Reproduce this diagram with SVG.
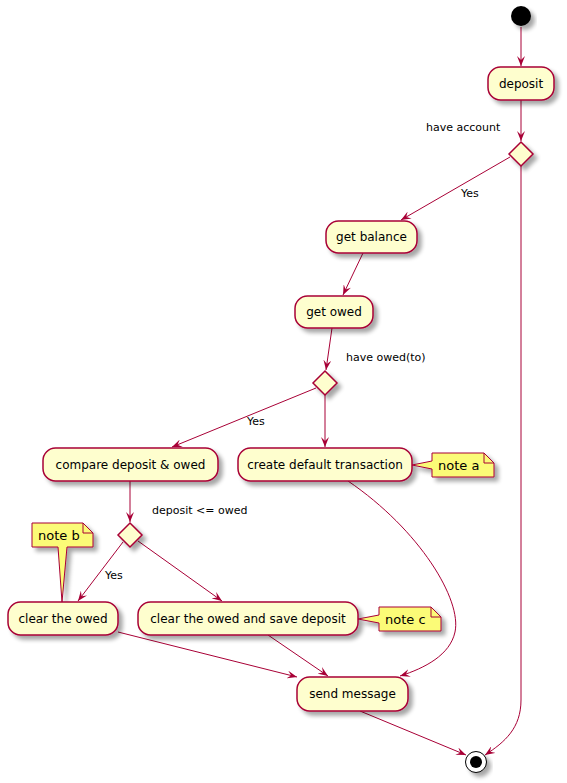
<svg xmlns="http://www.w3.org/2000/svg" width="567" height="783" viewBox="0 0 567 783">
<style>
.box{fill:#FEFECE;stroke:#A80036;stroke-width:1.5;filter:url(#sh)}
.dia{fill:#FEFECE;stroke:#A80036;stroke-width:1.5;filter:url(#sh)}
.note{fill:#FBFB77;stroke:#A80036;stroke-width:1;filter:url(#sh)}
.fold{fill:none;stroke:#A80036;stroke-width:1}
.t{font-family:"DejaVu Sans",sans-serif;font-size:12px;fill:#000;text-anchor:middle}
.nt{font-family:"DejaVu Sans",sans-serif;font-size:13px;fill:#000}
.lbl{font-family:"DejaVu Sans",sans-serif;font-size:11px;fill:#000}
.e{fill:none;stroke:#A80036;stroke-width:1;marker-end:url(#ah)}
</style>
<defs>
<filter id="sh" x="-20%" y="-20%" width="150%" height="160%">
<feGaussianBlur in="SourceAlpha" stdDeviation="2"/>
<feOffset dx="4" dy="4" result="b"/>
<feComponentTransfer><feFuncA type="linear" slope="0.35"/></feComponentTransfer>
<feMerge><feMergeNode/><feMergeNode in="SourceGraphic"/></feMerge>
</filter>
<marker id="ah" markerWidth="10" markerHeight="8" refX="10" refY="4" orient="auto" markerUnits="userSpaceOnUse">
<path d="M0,0 L10,4 L0,8 L4,4 Z" fill="#A80036"/>
</marker>
</defs>

<g id="connectors">
<line class="e" x1="521" y1="27" x2="521" y2="66"/>
<line class="e" x1="521" y1="100" x2="521" y2="141"/>
<line class="e" x1="510" y1="157" x2="401" y2="220"/>
<line class="e" x1="363" y1="253" x2="343" y2="295"/>
<line class="e" x1="332" y1="328" x2="326" y2="370"/>
<line class="e" x1="316" y1="388" x2="172" y2="447"/>
<line class="e" x1="325" y1="395" x2="325" y2="447"/>
<line class="e" x1="130" y1="481" x2="130" y2="522"/>
<line class="e" x1="123" y1="542" x2="78" y2="601"/>
<line class="e" x1="138" y1="541" x2="222" y2="601"/>
<line class="e" x1="118" y1="632" x2="297" y2="677"/>
<line class="e" x1="268" y1="635" x2="328" y2="676"/>
<path class="e" d="M348,481 C420,530 462,600 455,632 C450,655 425,668 400,676"/>
<line class="e" x1="360" y1="711" x2="466" y2="755"/>
<path class="e" d="M521,166 L521,700 C521,728 505,742 485,755"/>
<text class="lbl" x="426" y="131">have account</text>
<text class="lbl" x="461" y="197">Yes</text>
<text class="lbl" x="346" y="361">have owed(to)</text>
<text class="lbl" x="247" y="425">Yes</text>
<text class="lbl" x="152" y="514">deposit &lt;= owed</text>
<text class="lbl" x="105" y="579">Yes</text>
</g>

<g id="start"><circle cx="521" cy="16" r="10" fill="#000" filter="url(#sh)"/></g>

<g id="deposit"><rect class="box" x="488" y="67" width="66" height="33" rx="12.5"/><text class="t" x="521" y="88">deposit</text></g>
<g id="have_account"><polygon class="dia" points="521,142 533,154 521,166 509,154"/></g>
<g id="get_balance"><rect class="box" x="326" y="221" width="91" height="32" rx="12.5"/><text class="t" x="371.5" y="241">get balance</text></g>
<g id="get_owed"><rect class="box" x="295" y="296" width="78" height="32" rx="12.5"/><text class="t" x="334" y="316">get owed</text></g>
<g id="have_owed"><polygon class="dia" points="325,371 337,383 325,395 313,383"/></g>
<g id="compare"><rect class="box" x="43" y="448" width="175" height="33" rx="12.5"/><text class="t" x="130.5" y="469">compare deposit &amp; owed</text></g>
<g id="create_default"><rect class="box" x="238" y="448" width="174" height="33" rx="12.5"/><text class="t" x="325" y="469">create default transaction</text></g>
<g id="note_a"><path class="note" d="M432,453 L484,453 L494,463 L494,477 L432,477 L432,469 L412,465 L432,461 Z"/><path class="fold" d="M484,453 L484,463 L494,463"/><text class="nt" x="438" y="470">note a</text></g>
<g id="deposit_le_owed"><polygon class="dia" points="130,523 142,535 130,547 118,535"/></g>
<g id="note_b"><path class="note" d="M32,523 L83,523 L93,533 L93,547 L67,547 L62,602 L58,547 L32,547 Z"/><path class="fold" d="M83,523 L83,533 L93,533"/><text class="nt" x="38" y="540">note b</text></g>
<g id="clear_owed"><rect class="box" x="8" y="602" width="110" height="33" rx="12.5"/><text class="t" x="63" y="623">clear the owed</text></g>
<g id="clear_save"><rect class="box" x="138" y="602" width="220" height="33" rx="12.5"/><text class="t" x="248" y="623">clear the owed and save deposit</text></g>
<g id="note_c"><path class="note" d="M379,607 L431,607 L441,617 L441,631 L379,631 L379,623 L358,619 L379,615 Z"/><path class="fold" d="M431,607 L431,617 L441,617"/><text class="nt" x="385" y="624">note c</text></g>
<g id="send_message"><rect class="box" x="297" y="677" width="111" height="34" rx="12.5"/><text class="t" x="352.5" y="698">send message</text></g>
<g id="end"><circle cx="476" cy="762" r="10.5" fill="#fff" stroke="#000" stroke-width="1" filter="url(#sh)"/><circle cx="476" cy="762" r="6" fill="#000"/></g>
</svg>
